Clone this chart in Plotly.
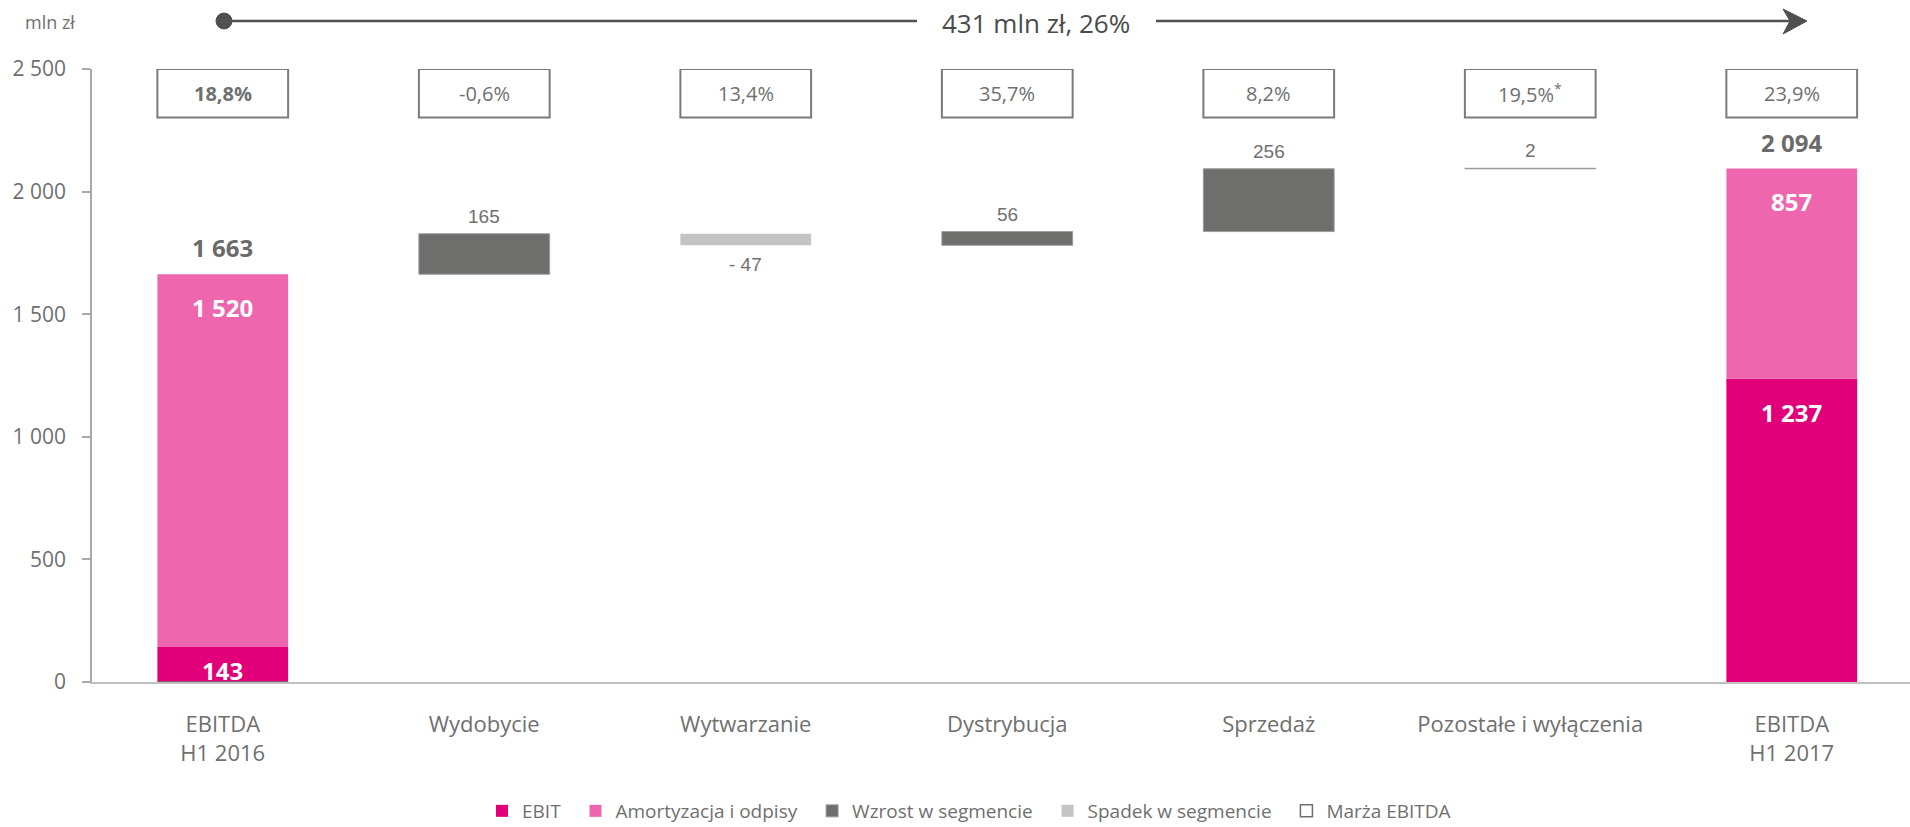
import plotly.graph_objects as go

# ---- data ----
categories = ["EBITDA<br>H1 2016", "Wydobycie", "Wytwarzanie", "Dystrybucja",
              "Sprzedaż", "Pozostałe i wyłączenia", "EBITDA<br>H1 2017"]
ebit = [143, 1237]            # EBIT in start/end columns
amort = [1520, 857]           # Amortyzacja i odpisy in start/end columns
totals = [1663, 2094]
changes = [165, -47, 56, 256, 2]
change_labels = ["165", "- 47", "56", "256", "2"]
margins = ["18,8%", "-0,6%", "13,4%", "35,7%", "8,2%", "19,5%<sup>*</sup>", "23,9%"]
total_change_text = "431 mln zł, 26%"
yticks = [0, 500, 1000, 1500, 2000, 2500]
yticklabels = ["0", "500", "1 000", "1 500", "2 000", "2 500"]

# ---- colours ----
C_EBIT = "#e2007a"
C_AMORT = "#ee67ae"
C_UP = "#6e6e6c"
C_DOWN = "#c4c4c4"
C_TEXT = "#6f6f6f"

end_idx = [0, len(categories) - 1]
seg_idx = list(range(1, len(categories) - 1))

# waterfall bases
up_x, up_base, up_y, up_lab = [], [], [], []
dn_x, dn_base, dn_y, dn_lab = [], [], [], []
running = totals[0]
for i, c, lab in zip(seg_idx, changes, change_labels):
    if c >= 0:
        up_x.append(i); up_base.append(running); up_y.append(c); up_lab.append(lab)
    else:
        dn_x.append(i); dn_base.append(running + c); dn_y.append(-c); dn_lab.append(lab)
    running += c

W = 0.5
PAD = "\u00a0\u00a0"
fig = go.Figure()
fig.add_trace(go.Bar(x=end_idx, y=ebit, width=W, marker=dict(color=C_EBIT, line=dict(width=0)),
                     name="EBIT" + PAD, hoverinfo="skip"))
fig.add_trace(go.Bar(x=end_idx, y=amort, base=ebit, width=W,
                     marker=dict(color=C_AMORT, line=dict(width=0)),
                     name="Amortyzacja i odpisy" + PAD, hoverinfo="skip"))
fig.add_trace(go.Bar(x=up_x, y=up_y, base=up_base, width=W,
                     marker=dict(color=C_UP, line=dict(color="#9a9a9a", width=1)),
                     name="Wzrost w segmencie" + PAD, hoverinfo="skip"))
fig.add_trace(go.Bar(x=dn_x, y=dn_y, base=dn_base, width=W,
                     marker=dict(color=C_DOWN, line=dict(width=0)),
                     name="Spadek w segmencie" + PAD, hoverinfo="skip"))
fig.add_trace(go.Bar(x=[0], y=[0], width=W, marker=dict(color="white", line=dict(color="#6f6f6f", width=1.5)),
                     name="Marża EBITDA", hoverinfo="skip"))

ann = []
font_in = dict(family="Open Sans", size=24, color="white")
font_tot = dict(family="Open Sans", size=24, color="#6a6a6a")
font_seg = dict(family="Liberation Sans, Arial", size=19, color="#707070")
font_box = dict(family="Open Sans", size=20, color=C_TEXT)

# labels in end columns
for k, i in enumerate(end_idx):
    ann.append(dict(x=i, y=totals[k], text="<b>" + f"{totals[k]:,}".replace(",", " ") + "</b>",
                    yanchor="bottom", yshift=8, showarrow=False, font=font_tot))
    ann.append(dict(x=i, y=totals[k], text="<b>" + f"{amort[k]:,}".replace(",", " ") + "</b>",
                    yanchor="middle", yshift=-33, showarrow=False, font=font_in))
    if ebit[k] > 300:
        ann.append(dict(x=i, y=ebit[k], text="<b>" + f"{ebit[k]:,}".replace(",", " ") + "</b>",
                        yanchor="middle", yshift=-34, showarrow=False, font=font_in))
    else:
        ann.append(dict(x=i, y=ebit[k] / 2, text="<b>" + f"{ebit[k]:,}".replace(",", " ") + "</b>",
                        yanchor="middle", yshift=-6, showarrow=False, font=font_in))

# segment labels
for x, b, v, lab in zip(up_x, up_base, up_y, up_lab):
    ann.append(dict(x=x, y=b + v, text=lab, yanchor="bottom", yshift=5, showarrow=False, font=font_seg))
for x, b, v, lab in zip(dn_x, dn_base, dn_y, dn_lab):
    ann.append(dict(x=x, y=b, text=lab, yanchor="top", yshift=-7, showarrow=False, font=font_seg))

# margin boxes
shapes = []
for i, m in enumerate(margins):
    shapes.append(dict(type="rect", xref="x", yref="y", x0=i - W / 2, x1=i + W / 2, y0=2302, y1=2500,
                       line=dict(color="#7a7a7a", width=2), fillcolor="rgba(0,0,0,0)", layer="above"))
    txt = "<b>" + m + "</b>" if i == 0 else m
    ann.append(dict(x=i, y=2401, text=txt, showarrow=False, font=font_box, yanchor="middle"))

# top arrow (paper coords: plot area x 92..1910, y 69..682 px)
def px(xp):
    return (xp - 92) / 1818.0
def py(yp):
    return (682 - yp) / 613.0

shapes.append(dict(type="line", xref="paper", yref="paper", x0=px(224), x1=px(917), y0=py(21), y1=py(21),
                   line=dict(color="#505050", width=2.5)))
shapes.append(dict(type="line", xref="paper", yref="paper", x0=px(1156), x1=px(1795), y0=py(21), y1=py(21),
                   line=dict(color="#505050", width=2.5)))
shapes.append(dict(type="circle", xref="paper", yref="paper", x0=px(216), x1=px(232), y0=py(29), y1=py(13),
                   fillcolor="#505050", line=dict(color="#505050", width=1)))
shapes.append(dict(type="path", xref="paper", yref="paper",
                   path=f"M{px(1783)},{py(9)} L{px(1807)},{py(21)} L{px(1783)},{py(34)} L{px(1790)},{py(21)} Z",
                   fillcolor="#505050", line=dict(color="#505050", width=1)))
ann.append(dict(xref="paper", yref="paper", x=px(1036), y=py(23), text=total_change_text, showarrow=False,
                font=dict(family="Open Sans", size=26, color="#4a4a4a"), yanchor="middle"))
ann.append(dict(xref="paper", yref="paper", x=px(50), y=py(22), text="mln zł", showarrow=False,
                font=dict(family="Open Sans", size=18, color=C_TEXT), yanchor="middle", xanchor="center"))

fig.update_layout(
    width=1910, height=827,
    margin=dict(l=92, r=0, t=69, b=145, autoexpand=False),
    plot_bgcolor="white", paper_bgcolor="white",
    barmode="overlay",
    showlegend=True,
    legend=dict(orientation="h", xref="container", yref="container",
                x=969 / 1910, xanchor="center", y=1 - 811 / 827, yanchor="middle",
                font=dict(family="Open Sans", size=19, color=C_TEXT), traceorder="normal",
                itemwidth=30, tracegroupgap=0),
    annotations=ann, shapes=shapes,
    xaxis=dict(range=[-0.5, -0.5 + 1818 / 261.5], tickvals=list(range(len(categories))), ticktext=categories,
               showgrid=False, zeroline=False, showline=True, linecolor="#c0c0c0", linewidth=2,
               ticks="", ticklabelstandoff=22, automargin=False,
               tickfont=dict(family="Open Sans", size=22, color=C_TEXT)),
    yaxis=dict(range=[0, 2500], tickvals=yticks, ticktext=yticklabels, showgrid=False, zeroline=False,
               showline=True, linecolor="#a8a8a8", linewidth=1.5, ticks="outside", ticklen=8,
               tickcolor="#a8a8a8", tickwidth=1.5, ticklabelstandoff=12, automargin=False,
               tickfont=dict(family="Open Sans", size=21, color=C_TEXT)),
)

fig.write_html("out.html")
